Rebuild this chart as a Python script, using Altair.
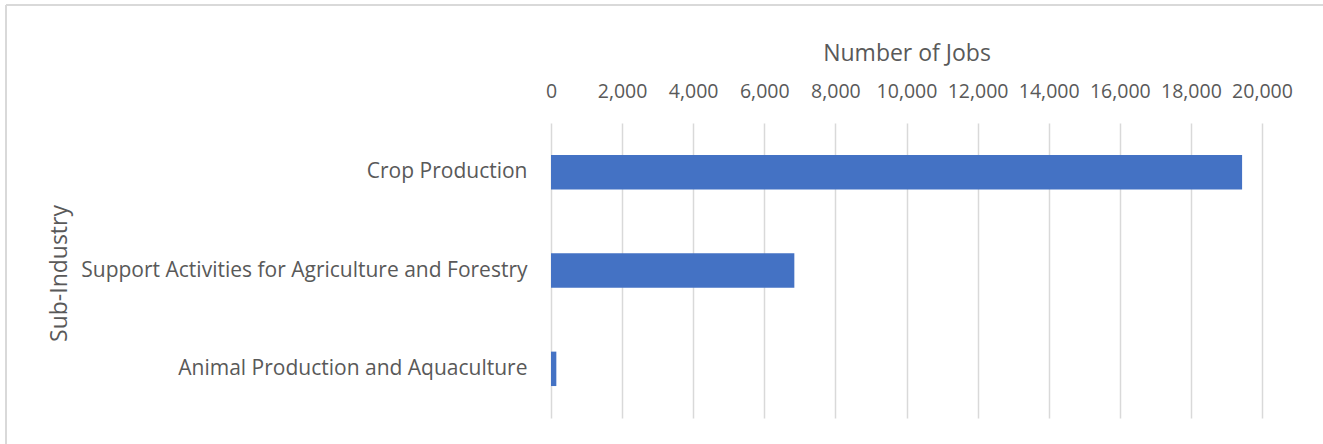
import altair as alt
import pandas as pd

# Jobs by agricultural sub-industry
sub_industries = [
    "Crop Production",
    "Support Activities for Agriculture and Forestry",
    "Animal Production and Aquaculture",
]
jobs = [19440, 6845, 150]

df = pd.DataFrame({"Sub-Industry": sub_industries, "Jobs": jobs})

FONT = "Open Sans"
TEXT = "#595959"
GRID = "#d9d9d9"

bars = alt.Chart(df).mark_bar(color="#4472c4").encode(
    x=alt.X(
        "Jobs:Q",
        title="Number of Jobs",
        scale=alt.Scale(domain=[0, 20000], nice=False),
        axis=alt.Axis(
            orient="top",
            values=list(range(0, 20001, 2000)),
            format=",.0f",
            grid=True,
            gridColor=GRID,
            gridWidth=1.5,
            domain=False,
            ticks=False,
            labelFlush=False,
            labelPadding=22,
            titlePadding=16,
            labelFont=FONT,
            titleFont=FONT,
            labelFontSize=19.5,
            titleFontSize=23,
            labelColor=TEXT,
            titleColor=TEXT,
            titleFontWeight="normal",
            labelOverlap=False,
        ),
    ),
    y=alt.Y(
        "Sub-Industry:N",
        sort=sub_industries,
        title="Sub-Industry",
        scale=alt.Scale(paddingInner=0.65, paddingOuter=0.325),
        axis=alt.Axis(
            grid=False,
            domain=False,
            ticks=False,
            labelPadding=24,
            labelLimit=600,
            titleX=-480,
            titleY=150,
            titleAngle=270,
            titleBaseline="bottom",
            titleAlign="center",
            labelFont=FONT,
            titleFont=FONT,
            labelFontSize=21,
            titleFontSize=23,
            labelColor=TEXT,
            titleColor=TEXT,
            titleFontWeight="normal",
        ),
    ),
)

# Light frame around the chart (top and left edges)
frame_top = alt.Chart(df).mark_rule(color=GRID, strokeWidth=2).encode(
    x=alt.value(-545), x2=alt.value(800), y=alt.value(-118)
)
frame_left = alt.Chart(df).mark_rule(color=GRID, strokeWidth=2).encode(
    x=alt.value(-545), y=alt.value(-118), y2=alt.value(400)
)

chart = (
    alt.layer(frame_top, frame_left, bars)
    .properties(
        width=711,
        height=295,
        padding={"left": 551, "top": 123, "right": 61, "bottom": 26},
        autosize=alt.AutoSizeParams(type="none"),
        view=alt.ViewBackground(stroke="transparent", strokeWidth=0, fill="white"),
    )
    .configure_view(stroke="transparent", strokeWidth=0, strokeOpacity=0)
    .configure_axisY(grid=False, domain=False)
    .configure_axisX(domain=False)
    .configure(background="white")
)

chart.save("out.html", embed_options={"renderer": "svg", "actions": False})
